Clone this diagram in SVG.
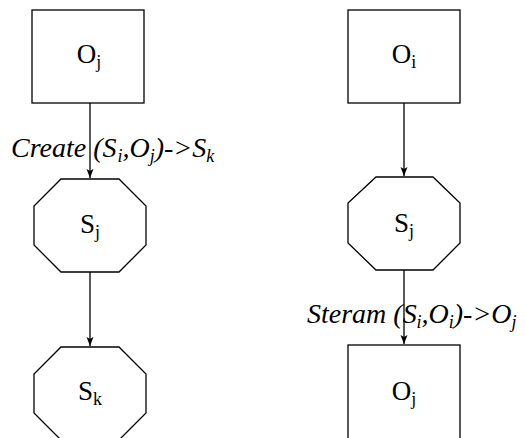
<svg xmlns="http://www.w3.org/2000/svg" width="525" height="438" viewBox="0 0 525 438">
<defs>
<marker id="arr" markerWidth="10" markerHeight="10" refX="9" refY="3.5" orient="auto" markerUnits="userSpaceOnUse">
<path d="M0,0 L9,3.5 L0,7 L2,3.5 z" fill="#000"/>
</marker>
</defs>
<rect width="525" height="438" fill="#fff"/>
<g id="edges" stroke="#000" stroke-width="1.3" fill="none">
<line x1="90" y1="103" x2="90" y2="178" marker-end="url(#arr)"/>
<line x1="90" y1="272" x2="90" y2="346" marker-end="url(#arr)"/>
<line x1="404" y1="103" x2="404" y2="176" marker-end="url(#arr)"/>
<line x1="404" y1="270" x2="404" y2="344" marker-end="url(#arr)"/>
</g>
<g id="edge-labels">
<text x="11" y="157" font-family="Liberation Serif" font-style="italic" font-size="28">Create (S</text>
<text x="117.5" y="162" font-family="Liberation Serif" font-style="italic" font-size="18">i</text>
<text x="122.5" y="157" font-family="Liberation Serif" font-style="italic" font-size="28">,O</text>
<text x="149.7" y="162" font-family="Liberation Serif" font-style="italic" font-size="18">j</text>
<text x="154.7" y="157" font-family="Liberation Serif" font-style="italic" font-size="28">)-&gt;S</text>
<text x="206.2" y="162" font-family="Liberation Serif" font-style="italic" font-size="18">k</text>
<text x="307" y="323" font-family="Liberation Serif" font-style="italic" font-size="28">Steram (S</text>
<text x="416.6" y="328" font-family="Liberation Serif" font-style="italic" font-size="18">i</text>
<text x="421.6" y="323" font-family="Liberation Serif" font-style="italic" font-size="28">,O</text>
<text x="448.8" y="328" font-family="Liberation Serif" font-style="italic" font-size="18">i</text>
<text x="453.8" y="323" font-family="Liberation Serif" font-style="italic" font-size="28">)-&gt;O</text>
<text x="511.6" y="328" font-family="Liberation Serif" font-style="italic" font-size="18">j</text>
</g>
<g id="Oj_left">
<rect x="32" y="10" width="112" height="93" fill="#fff" stroke="#000" stroke-width="1.3"/>
<text x="76.8" y="63" font-family="Liberation Serif" font-size="27">O</text>
<text x="96.3" y="68" font-family="Liberation Serif" font-size="18">j</text>
</g>
<g id="Sj_left">
<polygon points="61,179 119,179 146,206 146,245 119,272 61,272 34,245 34,206" fill="#fff" stroke="#000" stroke-width="1.3"/>
<text x="80" y="233" font-family="Liberation Serif" font-size="27">S</text>
<text x="95" y="238" font-family="Liberation Serif" font-size="18">j</text>
</g>
<g id="Sk">
<polygon points="61,347 119,347 146,374 146,413 119,440 61,440 34,413 34,374" fill="#fff" stroke="#000" stroke-width="1.3"/>
<text x="78" y="400" font-family="Liberation Serif" font-size="27">S</text>
<text x="93" y="405" font-family="Liberation Serif" font-size="18">k</text>
</g>
<g id="Oi">
<rect x="348" y="10" width="112" height="93" fill="#fff" stroke="#000" stroke-width="1.3"/>
<text x="391.8" y="63" font-family="Liberation Serif" font-size="27">O</text>
<text x="411.3" y="68" font-family="Liberation Serif" font-size="18">i</text>
</g>
<g id="Sj_right">
<polygon points="376,177 433,177 460,203 460,243 433,270 376,270 348,243 348,203" fill="#fff" stroke="#000" stroke-width="1.3"/>
<text x="394" y="232" font-family="Liberation Serif" font-size="27">S</text>
<text x="409" y="237" font-family="Liberation Serif" font-size="18">j</text>
</g>
<g id="Oj_right">
<rect x="348" y="345" width="112" height="100" fill="#fff" stroke="#000" stroke-width="1.3"/>
<text x="391.8" y="400" font-family="Liberation Serif" font-size="27">O</text>
<text x="411.3" y="405" font-family="Liberation Serif" font-size="18">j</text>
</g>
</svg>
